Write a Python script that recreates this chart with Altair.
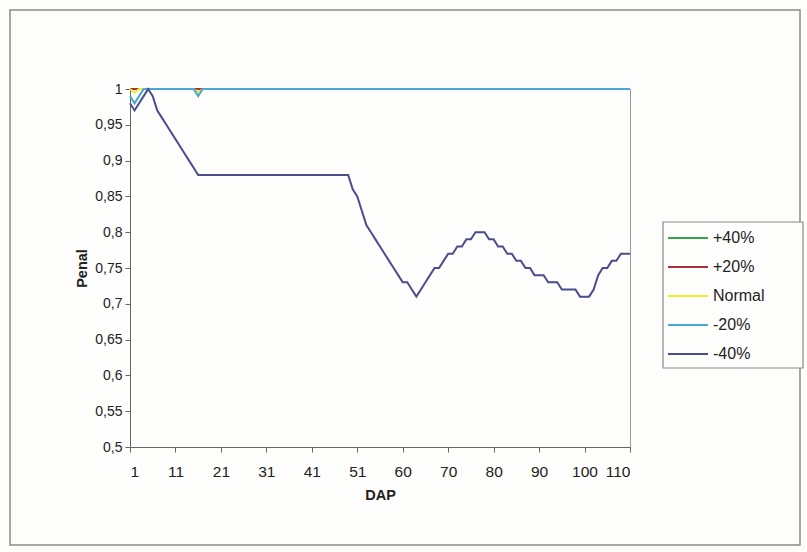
import altair as alt
import pandas as pd

# ---- data ----
series_names = ["+40%", "+20%", "Normal", "-20%", "-40%"]
series_colors = ["#3aa14e", "#a4323e", "#f2ea2a", "#4aa6d4", "#4b4d8c"]
tick_labels = ["1", "11", "21", "31", "41", "51", "60", "70", "80", "90", "100", "110"]

idx = list(range(111))  # category positions on the DAP axis

plus40 = [1.0] * 111
plus20 = [1.0] * 111
normal = [1.0, 0.995] + [1.0] * 13 + [0.995] + [1.0] * 95
minus20 = [0.99, 0.98, 0.99] + [1.0] * 12 + [0.99] + [1.0] * 95
minus40 = [
    0.98, 0.97, 0.98, 0.99, 1.00, 0.99, 0.97, 0.96, 0.95, 0.94, 0.93, 0.92, 0.91, 0.90, 0.89, 0.88,
    0.88, 0.88, 0.88, 0.88, 0.88, 0.88, 0.88, 0.88, 0.88, 0.88, 0.88, 0.88, 0.88, 0.88, 0.88,
    0.88, 0.88, 0.88, 0.88, 0.88, 0.88, 0.88, 0.88, 0.88, 0.88, 0.88, 0.88, 0.88, 0.88, 0.88,
    0.88, 0.88, 0.88,
    0.86, 0.85, 0.83, 0.81, 0.80, 0.79, 0.78, 0.77, 0.76, 0.75, 0.74, 0.73, 0.73, 0.72, 0.71,
    0.72, 0.73, 0.74, 0.75, 0.75, 0.76, 0.77, 0.77, 0.78, 0.78, 0.79, 0.79, 0.80, 0.80, 0.80,
    0.79, 0.79, 0.78, 0.78, 0.77, 0.77, 0.76, 0.76, 0.75, 0.75, 0.74, 0.74, 0.74, 0.73, 0.73,
    0.73, 0.72, 0.72, 0.72, 0.72, 0.71, 0.71, 0.71,
    0.72, 0.74, 0.75, 0.75, 0.76, 0.76, 0.77, 0.77, 0.77,
]

values = [plus40, plus20, normal, minus20, minus40]
rows = []
for name, vals in zip(series_names, values):
    for i, v in zip(idx, vals):
        rows.append({"idx": i, "Penal": v, "serie": name})
df = pd.DataFrame(rows)

FONT = "Liberation Sans"
x_label_expr = "[" + ",".join("'%s'" % t for t in tick_labels) + "][round(datum.value/10)]"

lines = alt.Chart(df).mark_line(strokeWidth=2).encode(
    x=alt.X(
        "idx:Q",
        scale=alt.Scale(domain=[0, 110], nice=False, zero=False),
        axis=alt.Axis(
            title="DAP",
            values=list(range(0, 111, 10)),
            labelExpr=x_label_expr,
            grid=False,
            tickSize=5,
            labelPadding=12,
            titlePadding=9,
            labelFontSize=15.5,
        ),
    ),
    y=alt.Y(
        "Penal:Q",
        scale=alt.Scale(domain=[0.5, 1.0], nice=False, zero=False),
        axis=alt.Axis(
            title="Penal",
            values=[0.5 + 0.05 * k for k in range(11)],
            labelExpr="replace(format(datum.value, '~g'), '.', ',')",
            grid=False,
            tickSize=5,
            labelPadding=3,
            titlePadding=5,
            labelFontSize=14,
        ),
    ),
    color=alt.Color(
        "serie:N",
        scale=alt.Scale(domain=series_names, range=series_colors),
        legend=alt.Legend(
            title=None,
            orient="none",
            legendX=537,
            legendY=128,
            symbolType="stroke",
            symbolSize=1600,
            symbolStrokeWidth=2,
            labelFont=FONT,
            labelFontSize=16,
            labelColor="#222",
            labelOffset=4,
            rowPadding=0,
            padding=0,
        ),
    ),
)

# legend box (decorative frame)
legend_box = alt.Chart(pd.DataFrame({"a": [0]})).mark_rect(
    fill="#fdfdfb", stroke="#8a8a8a", strokeWidth=1.2
).encode(
    x=alt.value(533), x2=alt.value(673), y=alt.value(133), y2=alt.value(279)
)

# outer chart frame (decorative)
frame = alt.Chart(pd.DataFrame({"a": [0]})).mark_rect(
    fillOpacity=0, stroke="#8a8a8a", strokeWidth=1.5
).encode(
    x=alt.value(-120), x2=alt.value(670), y=alt.value(-79), y2=alt.value(456)
)

chart = alt.layer(frame, legend_box, lines).properties(
    width=500,
    height=358,
    autosize="none",
    padding={"left": 130, "top": 89, "right": 177, "bottom": 105},
    background="#fdfdfb",
).configure_view(
    stroke="#9a9a9a", strokeWidth=1
).configure_axis(
    labelFont=FONT,
    labelColor="#222",
    titleFont=FONT,
    titleFontSize=14.5,
    titleFontWeight="bold",
    titleColor="#222",
    domainColor="#666",
    tickColor="#666",
)

chart.save("out.html", embed_options={"renderer": "svg", "actions": False})
